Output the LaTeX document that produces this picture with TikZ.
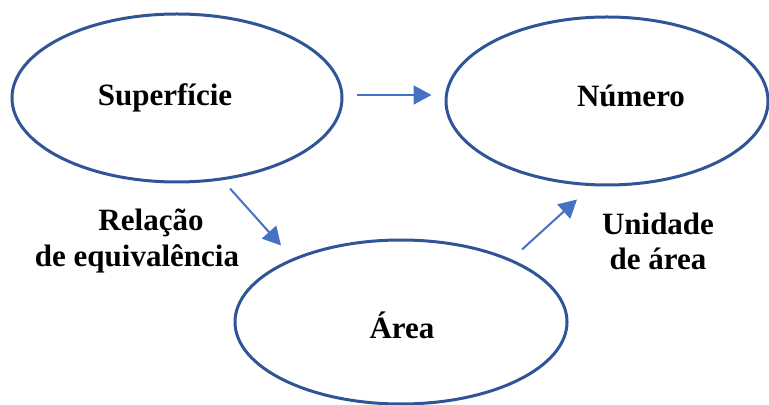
\documentclass[tikz,border=0pt]{standalone}
\usepackage{fontspec}
\setmainfont{Liberation Serif}
\usepackage{tikz}
\usetikzlibrary{arrows.meta, shapes.geometric, calc}
\usepackage{xcolor}
\definecolor{rimblue}{HTML}{2F5597}
\definecolor{arrblue}{HTML}{4472C4}

\begin{document}
\begin{tikzpicture}[
  x=0.5pt, y=-0.5pt,
  bubble/.style = {draw=rimblue, ellipse, line width=1.5pt, inner sep=0pt},
  word/.style   = {font=\fontsize{15.5}{17.5}\selectfont\bfseries, inner sep=0pt, anchor=base},
  note/.style   = {font=\fontsize{15.5}{17.5}\selectfont\bfseries, inner sep=0pt, align=center},
  arr/.style    = {-{Triangle[length=9pt, width=9.5pt]}, draw=arrblue, fill=arrblue, line width=1pt},
]
\useasboundingbox (0,0) rectangle (769,405);
% ── Ellipses ─────────────────────────────────────────────────────────────────
\node[bubble, minimum width=165pt, minimum height=84pt] (sup) at (177,98)  {};
\node[bubble, minimum width=161pt, minimum height=84pt] (num) at (607,101) {};
\node[bubble, minimum width=166pt, minimum height=82pt] (are) at (401,322) {};

\node[word] (supt) at (165,106) {Superfície};
\node[word] (numt) at (631,107) {Número};
\node[word] (aret) at (402,338) {Área};

% ── Arrows ───────────────────────────────────────────────────────────────────
\draw[arr] ([shift={(13,-3)}]sup.east)   -- ([shift={(-13,-6)}]num.west);
\draw[arr] ([shift={(53,5)}]sup.south)   -- ([shift={(-120,7)}]are.north);
\draw[arr] ([shift={(121,11)}]are.north) -- ([shift={(-30,13)}]num.south);

% ── Labels ───────────────────────────────────────────────────────────────────
\node[note] (rel) at (137,241) {\hspace*{14pt}Relação\\de equivalência};
\node[note] (uni) at (658,241) {Unidade\\de área};
\end{tikzpicture}
\end{document}
